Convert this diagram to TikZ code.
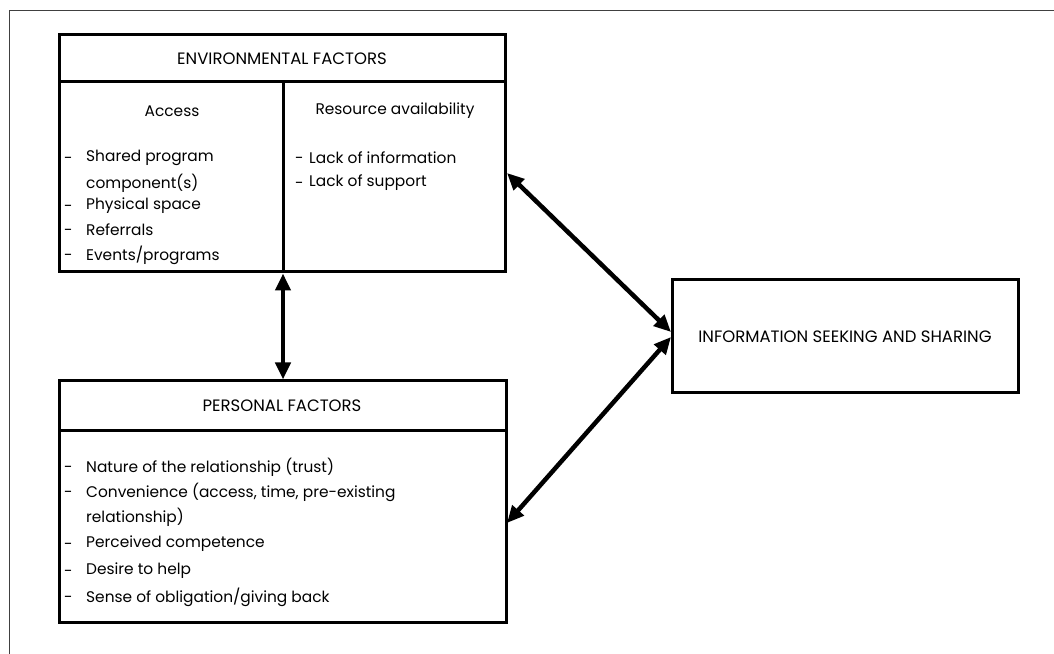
\documentclass[tikz,border=0pt]{standalone}
\usepackage{fontspec}
\setmainfont{Poppins}
\usetikzlibrary{arrows.meta}
\tikzset{
  boxframe/.style={draw=black, line width=3pt, minimum width=#1, inner sep=0pt},
  lbl/.style={font=\fontsize{15.4}{17}\selectfont, inner sep=0pt},
  hdr/.style={font=\fontsize{16.5}{18}\selectfont, inner sep=0pt},
  item/.style={lbl, anchor=west},
  dashmark/.style={lbl, anchor=west, yshift=-2.5pt},
  biarrow/.style={line width=4.5pt, {Triangle[length=17pt,width=15pt]}-{Triangle[length=17pt,width=15pt]}}
}
\begin{document}
\begin{tikzpicture}[x=1pt,y=1pt]
\useasboundingbox (0,0) rectangle (1054,653);
% outer frame
\draw[draw=black!75, line width=1pt] (1060,642) -- (9,642) -- (9,-6);
% environmental factors box
\node[boxframe=446pt, minimum height=237pt] (env) at (282,499.5) {};
\coordinate (envdivL) at (59,571);
\coordinate (envdivR) at (505,571);
\draw[line width=3pt] (envdivL) -- (envdivR);
\coordinate (envmidT) at (283,571);
\coordinate (envmidB) at (283,381);
\draw[line width=3pt] (envmidT) -- (envmidB);
\node[hdr] (envh) at (282,594) {ENVIRONMENTAL FACTORS};
\node[lbl] (acc) at (172,542) {Access};
\node[lbl] (res) at (395,542) {Resource availability};
\node[dashmark] (a1d) at (64,495) {-};
\node[item] (a1) at (86,495) {Shared program};
\node[item] (a1b) at (86,470) {component(s)};
\node[dashmark] (a2d) at (64,447) {-};
\node[item] (a2) at (86,447) {Physical space};
\node[dashmark] (a3d) at (64,423) {-};
\node[item] (a3) at (86,423) {Referrals};
\node[dashmark] (a4d) at (64,398) {-};
\node[item] (a4) at (86,398) {Events/programs};
\node[dashmark] (r1d) at (295,495) {-};
\node[item] (r1) at (309,495) {Lack of information};
\node[dashmark] (r2d) at (295,470) {-};
\node[item] (r2) at (309,470) {Lack of support};
% personal factors box
\node[boxframe=447pt, minimum height=241pt] (pers) at (282.5,151.5) {};
\coordinate (persdivL) at (59,222);
\coordinate (persdivR) at (506,222);
\draw[line width=3pt] (persdivL) -- (persdivR);
\node[hdr] (persh) at (282,247) {PERSONAL FACTORS};
\node[dashmark] (p1d) at (64,186) {-};
\node[item] (p1) at (86,186) {Nature of the relationship (trust)};
\node[dashmark] (p2d) at (64,161) {-};
\node[item] (p2) at (86,161) {Convenience (access, time, pre-existing};
\node[item] (p2b) at (86,136) {relationship)};
\node[dashmark] (p3d) at (64,109) {-};
\node[item] (p3) at (86,109) {Perceived competence};
\node[dashmark] (p4d) at (64,82) {-};
\node[item] (p4) at (86,82) {Desire to help};
\node[dashmark] (p5d) at (64,56) {-};
\node[item] (p5) at (86,56) {Sense of obligation/giving back};
% information box
\node[boxframe=346pt, minimum height=113pt, hdr] (info) at (845,316.5) {INFORMATION SEEKING AND SHARING};
% arrows
\coordinate (envR) at (507,480);
\coordinate (infoA) at (671,321);
\coordinate (infoB) at (671,316);
\coordinate (persR) at (507,130);
\draw[biarrow] (env.south -| envmidB) -- (pers.north -| envmidB);
\draw[biarrow] (envR) -- (infoA);
\draw[biarrow] (infoB) -- (persR);
\end{tikzpicture}
\end{document}
